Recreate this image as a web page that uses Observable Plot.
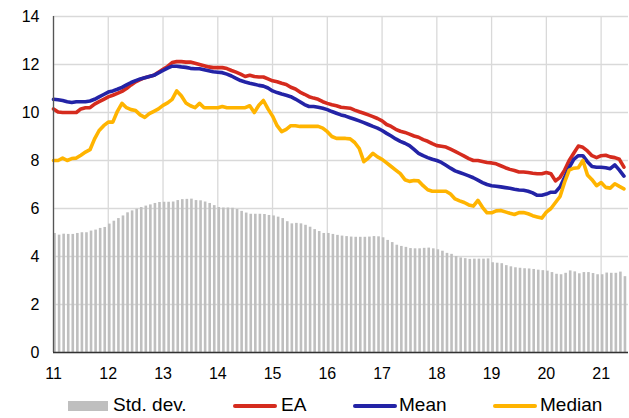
<!DOCTYPE html>
<html><head><meta charset="utf-8">
<script src="https://cdn.jsdelivr.net/npm/d3@7"></script>
<script src="https://cdn.jsdelivr.net/npm/@observablehq/plot@0.6"></script>
<style>
body{margin:0;background:#fff;font-family:"Liberation Sans",Arial,sans-serif;}
#wrap{position:relative;width:629px;height:418px;overflow:hidden;}
#chart{position:absolute;left:0;top:0;}
#legend{position:absolute;left:0;top:394px;width:629px;height:24px;font-size:19px;color:#000;}
.sw{position:absolute;}
.lt{position:absolute;top:0;line-height:22px;white-space:nowrap;}
</style></head><body>
<div id="wrap"><div id="chart"></div><div id="legend"></div></div>
<script>
const startYear = 11;
const xTicks = [11,12,13,14,15,16,17,18,19,20,21];
const yTicks = [0,2,4,6,8,10,12,14];
const seriesNames = ["Std. dev.","EA","Mean","Median"];

const stdDev = [4.96,4.89,4.93,4.92,4.92,4.96,4.99,4.99,5.06,5.1,5.17,5.21,5.35,5.47,5.58,5.69,5.82,5.9,5.97,6.04,6.1,6.15,6.21,6.25,6.26,6.26,6.27,6.33,6.37,6.38,6.39,6.33,6.32,6.27,6.21,6.12,6.04,6.02,6.02,6.01,5.96,5.88,5.81,5.76,5.76,5.76,5.75,5.71,5.69,5.64,5.58,5.45,5.36,5.38,5.36,5.3,5.22,5.12,5.04,4.96,4.96,4.92,4.88,4.85,4.83,4.81,4.8,4.8,4.8,4.81,4.83,4.82,4.78,4.67,4.58,4.47,4.42,4.38,4.33,4.32,4.32,4.34,4.35,4.32,4.28,4.22,4.13,4.09,4.0,3.94,3.91,3.88,3.89,3.89,3.89,3.9,3.74,3.72,3.7,3.62,3.57,3.53,3.51,3.49,3.48,3.46,3.43,3.41,3.39,3.33,3.26,3.24,3.3,3.4,3.36,3.28,3.33,3.33,3.29,3.24,3.24,3.31,3.3,3.3,3.35,3.16];

const ea = [10.15,10.02,10.0,10.0,10.0,10.0,10.15,10.2,10.2,10.35,10.45,10.55,10.65,10.72,10.8,10.88,11.0,11.15,11.28,11.37,11.45,11.5,11.55,11.68,11.8,11.92,12.08,
12.12,12.12,12.1,12.1,12.05,12.0,11.95,11.9,11.87,11.87,11.87,11.83,11.75,11.68,11.6,11.5,11.55,11.5,11.48,11.48,11.4,11.32,11.28,11.22,11.17,11.05,10.98,
10.85,10.76,10.66,10.6,10.55,10.45,10.38,10.32,10.28,10.22,10.2,10.18,10.1,10.03,9.97,9.9,9.83,9.75,9.65,9.5,9.42,9.3,9.22,9.17,9.1,9.02,
8.97,8.87,8.8,8.7,8.62,8.59,8.56,8.47,8.38,8.28,8.18,8.08,8.0,8.0,7.96,7.92,7.9,7.86,7.78,7.7,7.63,7.58,7.52,7.52,7.5,7.47,
7.45,7.45,7.5,7.45,7.15,7.3,7.6,8.0,8.3,8.6,8.55,8.4,8.2,8.12,8.2,8.22,8.15,8.12,8.05,7.72];

const mean = [10.55,10.53,10.5,10.45,10.42,10.45,10.45,10.45,10.48,10.55,10.65,10.75,10.85,10.9,10.97,11.05,11.15,11.25,11.33,11.4,11.45,11.5,11.55,11.65,11.75,11.85,11.93,
11.93,11.9,11.88,11.84,11.82,11.82,11.78,11.74,11.7,11.68,11.66,11.6,11.52,11.42,11.33,11.27,11.22,11.18,11.13,11.1,11.02,10.9,10.83,10.77,10.72,10.66,10.56,
10.45,10.33,10.25,10.25,10.22,10.18,10.12,10.04,9.97,9.9,9.85,9.78,9.72,9.65,9.58,9.5,9.42,9.35,9.25,9.13,9.02,8.9,8.8,8.72,8.62,8.46,
8.3,8.2,8.12,8.05,8.0,7.92,7.8,7.68,7.57,7.5,7.43,7.36,7.28,7.18,7.08,7.0,6.95,6.93,6.9,6.87,6.84,6.8,6.77,6.76,6.72,
6.65,6.55,6.55,6.6,6.68,6.68,6.9,7.3,7.7,8.05,8.2,8.2,7.95,7.75,7.72,7.72,7.7,7.66,7.82,7.6,7.35];

const median = [8.0,8.0,8.1,8.0,8.08,8.1,8.22,8.35,8.45,8.9,9.25,9.45,9.6,9.6,10.05,10.38,10.2,10.12,10.08,9.9,9.8,9.95,10.05,10.15,10.3,10.4,
10.55,10.9,10.7,10.4,10.28,10.2,10.38,10.2,10.2,10.2,10.2,10.25,10.2,10.2,10.2,10.2,10.2,10.28,10.0,10.3,10.5,10.15,9.85,9.45,9.2,9.3,9.45,9.45,
9.42,9.42,9.42,9.42,9.42,9.35,9.2,9.0,8.92,8.92,8.92,8.9,8.75,8.5,7.95,8.1,8.3,8.15,8.05,7.9,7.75,7.6,7.45,7.2,7.13,7.17,
7.15,6.95,6.78,6.72,6.72,6.72,6.72,6.6,6.4,6.32,6.25,6.15,6.1,6.34,6.05,5.82,5.82,5.9,5.92,5.86,5.8,5.75,5.83,5.83,5.78,
5.7,5.65,5.6,5.85,6.0,6.25,6.5,7.1,7.6,7.68,7.7,8.0,7.4,7.2,6.95,7.08,6.88,6.85,7.03,6.92,6.82];

const colors = {std:"#bfbfbf", ea:"#d52b1e", mean:"#2323a6", median:"#ffb400"};

const rows = stdDev.map((s, i) => ({t: startYear + i / 12, std: s, ea: ea[i], mean: mean[i], median: median[i]}));

const chart = Plot.plot({
  width: 629, height: 392,
  marginTop: 16, marginLeft: 53, marginRight: 1, marginBottom: 40,
  style: {fontFamily: "'Liberation Sans', Arial, sans-serif", fontSize: "16px", color: "#000", background: "#fff"},
  x: {domain: [startYear, startYear + stdDev.length / 12], ticks: xTicks, tickSize: 0, tickPadding: 15, tickFormat: d => String(d), label: null},
  y: {domain: [0, 14], ticks: yTicks, tickSize: 0, tickPadding: 14, label: null},
  marks: [
    Plot.gridX(xTicks, {stroke: "#d9d9d9", strokeOpacity: 1, strokeWidth: 1.3}),
    Plot.gridY(yTicks, {stroke: "#d9d9d9", strokeOpacity: 1, strokeWidth: 1.3}),
    Plot.rect(rows, {x1: d => d.t + 0.05 / 12, x2: d => d.t + 0.62 / 12, y1: 0, y2: "std", fill: colors.std}),
    Plot.line(rows, {x: "t", y: "ea", stroke: colors.ea, strokeWidth: 3.6, strokeLinejoin: "round"}),
    Plot.line(rows, {x: "t", y: "mean", stroke: colors.mean, strokeWidth: 3.6, strokeLinejoin: "round"}),
    Plot.line(rows, {x: "t", y: "median", stroke: colors.median, strokeWidth: 3.6, strokeLinejoin: "round"}),
    Plot.ruleX([startYear], {stroke: "#555", strokeWidth: 1.3}),
    Plot.ruleY([0], {stroke: "#333", strokeWidth: 1.3})
  ]
});
document.getElementById("chart").appendChild(chart);

// legend
const legend = document.getElementById("legend");
const items = [
  {name: seriesNames[0], color: colors.std, type: "box", sx: 68, sw: 40, tx: 113},
  {name: seriesNames[1], color: colors.ea, type: "line", sx: 233, sw: 44, tx: 281},
  {name: seriesNames[2], color: colors.mean, type: "line", sx: 353, sw: 44, tx: 399},
  {name: seriesNames[3], color: colors.median, type: "line", sx: 493, sw: 44, tx: 540}
];
for (const it of items) {
  const sw = document.createElement("div");
  sw.className = "sw";
  sw.style.left = it.sx + "px";
  sw.style.width = it.sw + "px";
  sw.style.background = it.color;
  if (it.type === "box") { sw.style.height = "10px"; sw.style.top = "7px"; }
  else { sw.style.height = "4px"; sw.style.top = "10px"; sw.style.borderRadius = "2px"; }
  legend.appendChild(sw);
  const tx = document.createElement("div");
  tx.className = "lt";
  tx.style.left = it.tx + "px";
  tx.textContent = it.name;
  legend.appendChild(tx);
}
</script>
</body></html>
